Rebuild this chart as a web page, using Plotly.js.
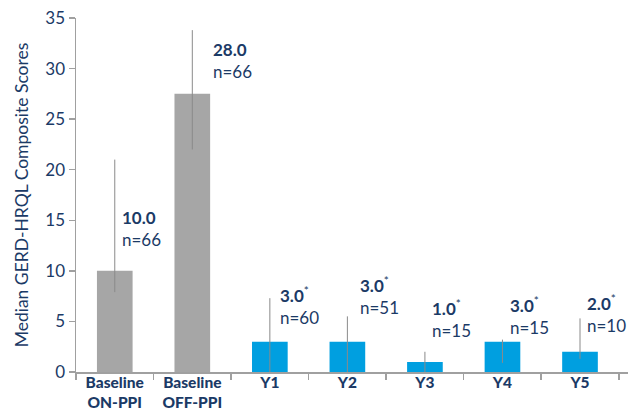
<!DOCTYPE html>
<html><head><meta charset="utf-8">
<script src="https://cdn.plot.ly/plotly-3.0.1.min.js"></script>
<style>body{margin:0;background:#fff}#chart{width:636px;height:417px}</style>
</head><body><div id="chart"></div>
<script>
// Data
var categories = ["Baseline<br>ON-PPI", "Baseline<br>OFF-PPI", "Y1", "Y2", "Y3", "Y4", "Y5"];
var medians = [10, 27.5, 3, 3, 1, 3, 2];
var errUpper = [21, 33.8, 7.3, 5.5, 2.0, 3.2, 5.3];
var errLower = [7.9, 22.0, 0, 0, 0, 0.9, 1.3];
var valueLabels = ["10.0", "28.0", "3.0", "3.0", "1.0", "3.0", "2.0"];
var significant = [false, false, true, true, true, true, true];
var nLabels = ["n=66", "n=66", "n=60", "n=51", "n=15", "n=15", "n=10"];

// Styling / layout config
var barColors = ["#a6a6a6", "#a6a6a6", "#009fe0", "#009fe0", "#009fe0", "#009fe0", "#009fe0"];
var labelTop = [16.5, 33.1, 9.0, 10.0, 7.7, 8.0, 8.2];
var labelShift = [5, 19, 8, 11, 5, 6, 5];
var navy = "#1b3a66";
var font = "Lato, 'Open Sans', sans-serif";

var trace = {
  type: "bar",
  x: categories,
  y: medians,
  width: 0.46,
  marker: {color: barColors},
  error_y: {
    type: "data",
    symmetric: false,
    array: medians.map(function(m, i){ return errUpper[i] - m; }),
    arrayminus: medians.map(function(m, i){ return m - errLower[i]; }),
    color: "#8a8a8a",
    thickness: 1,
    width: 0
  },
  hoverinfo: "none"
};

var annotations = categories.map(function(c, i){
  return {
    x: c, y: labelTop[i], xref: "x", yref: "y",
    xanchor: "left", yanchor: "top", align: "left",
    xshift: labelShift[i],
    showarrow: false,
    text: "<b>" + valueLabels[i] + "</b>" + (significant[i] ? "<sup>*</sup>" : "") + "<br>" + nLabels[i],
    font: {family: font, size: 17, color: navy}
  };
});

var layout = {
  width: 636, height: 417,
  margin: {l: 76, r: 8, t: 18, b: 45},
  paper_bgcolor: "#fff", plot_bgcolor: "#fff",
  showlegend: false,
  bargap: 0.54,
  xaxis: {
    type: "category",
    tickson: "boundaries",
    ticks: "outside", ticklen: 6, tickcolor: "#a0a0a0", tickwidth: 1.5,
    ticklabelstandoff: -4,
    showline: true, linecolor: "#a0a0a0", linewidth: 1.5,
    showgrid: false,
    tickfont: {family: font, size: 15.5, color: navy, weight: 900}
  },
  yaxis: {
    range: [0, 35], dtick: 5,
    ticks: "outside", ticklen: 6, tickcolor: "#a0a0a0", tickwidth: 1.5,
    showline: true, linecolor: "#a0a0a0", linewidth: 1.5,
    showgrid: false, zeroline: false,
    tickfont: {family: font, size: 17, color: navy},
    title: {text: "Median GERD-HRQL Composite Scores", font: {family: font, size: 17.5, color: navy}, standoff: 12}
  },
  annotations: annotations
};

Plotly.newPlot("chart", [trace], layout, {displayModeBar: false, staticPlot: true});
</script>
</body></html>
